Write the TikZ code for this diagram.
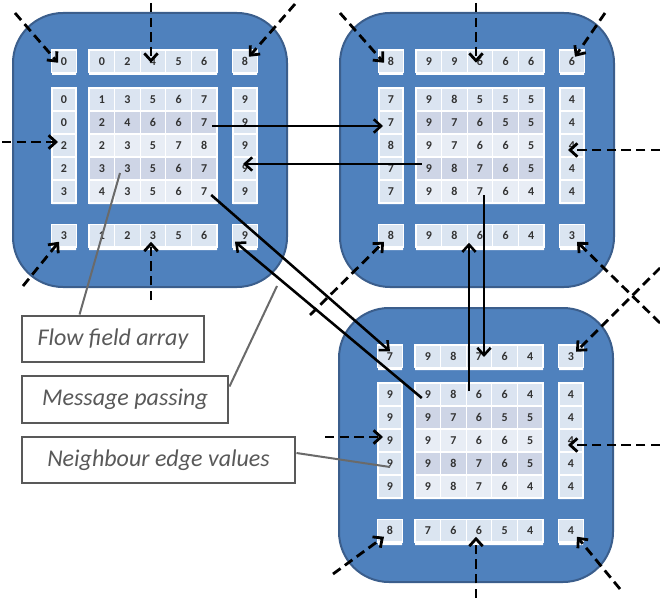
\documentclass[tikz,border=0pt]{standalone}
\usepackage{fontspec}
\setmainfont{Carlito}
\usetikzlibrary{arrows.meta,calc}

\definecolor{blockblue}{HTML}{4F81BD}
\definecolor{blockedge}{HTML}{3B5E8C}
\definecolor{edgecell}{HTML}{DBE5F1}
\definecolor{gridrow1}{HTML}{DBE4F1}
\definecolor{gridrow2}{HTML}{CED5E6}
\definecolor{gridrow3}{HTML}{E8EDF5}
\definecolor{gridrow4}{HTML}{CED5E6}
\definecolor{gridrow5}{HTML}{E8EDF5}
\definecolor{labelgray}{HTML}{595959}

\tikzset{
  blockbody/.style={fill=blockblue, draw=blockedge, line width=1.5pt, rounded corners=37.5pt},
  cell/.style={fill=edgecell, draw=white, line width=0.8pt, inner sep=0pt,
    minimum width=19.2pt, minimum height=16.9pt, font=\fontsize{9}{10}\selectfont\bfseries, text=black!80},
  sidecell/.style={cell, minimum width=18pt, minimum height=17.25pt},
  gridcell/.style={cell, minimum height=17.25pt},
  msg/.style={line width=1.9pt, -{Straight Barb[length=5.5pt,width=10pt]}},
  edgein/.style={msg, line width=2.1pt, dash pattern=on 7pt off 4pt},
  lbl/.style={draw=labelgray, line width=2.2pt, fill=white, text=labelgray,
    font=\fontsize{18}{20}\selectfont\itshape, inner sep=0pt},
  leader/.style={draw=labelgray!90, line width=1.5pt},
}

% one processor block: name, origin, top strip, bottom strip, left, right, grid rows
\newcommand{\flowblock}[7]{%
  \begin{scope}[shift={#2}]
    \draw[blockbody] (0,0) rectangle (274,274);
    \fill[white] (39,37) rectangle (63,62) (76,37) rectangle (204,62) (220,37) rectangle (244,62)
      (39,211) rectangle (63,237) (76,211) rectangle (204,237) (220,211) rectangle (244,237)
      (39,75) rectangle (63,191) (76,75) rectangle (204,191) (220,75) rectangle (244,191);
    \foreach \v [count=\i] in {#3}{
      \ifnum\i=1 \def\cx{51}\else\ifnum\i=7 \def\cx{232}\else\pgfmathsetmacro\cx{63.2+25.6*(\i-1)}\fi\fi
      \node[cell] (#1-t-\i) at (\cx,48.25) {\v};
    }
    \foreach \v [count=\i] in {#4}{
      \ifnum\i=1 \def\cx{51}\else\ifnum\i=7 \def\cx{232}\else\pgfmathsetmacro\cx{63.2+25.6*(\i-1)}\fi\fi
      \node[cell] (#1-b-\i) at (\cx,222.75) {\v};
    }
    \foreach \v [count=\r] in {#5}
      \node[sidecell] (#1-l-\r) at (51,{63.5+23*\r}) {\v};
    \foreach \v [count=\r] in {#6}
      \node[sidecell] (#1-r-\r) at (232,{63.5+23*\r}) {\v};
    \foreach \row [count=\r] in {#7}{
      \foreach \v [count=\c] in \row{
        \node[gridcell, fill=gridrow\r] (#1-g-\r-\c) at ({63.2+25.6*\c},{63.5+23*\r}) {\v};
      }
    }
  \end{scope}}

\begin{document}
\begin{tikzpicture}[x=0.75pt,y=-0.75pt]
  \useasboundingbox (0,0) rectangle (660,599);

  \flowblock{nw}{(13,13)}{0,0,2,4,5,6,8}{3,1,2,3,5,6,9}{0,0,2,2,3}{9,9,9,9,9}%
    {{1,3,5,6,7},{2,4,6,6,7},{2,3,5,7,8},{3,3,5,6,7},{4,3,5,6,7}}
  \flowblock{ne}{(340,13)}{8,9,9,6,6,6,6}{8,9,8,6,6,4,3}{7,7,8,7,7}{4,4,4,4,4}%
    {{9,8,5,5,5},{9,7,6,5,5},{9,7,6,6,5},{9,8,7,6,5},{9,8,7,6,4}}
  \flowblock{s}{(339,308)}{7,9,8,7,6,4,3}{8,7,6,6,5,4,4}{9,9,9,9,9}{4,4,4,4,4}%
    {{9,8,6,6,4},{9,7,6,5,5},{9,7,6,6,5},{9,8,7,6,5},{9,8,7,6,4}}

  % labels
  \node[lbl, minimum width=136.5pt, minimum height=34.5pt] (flowlbl) at (113,339) {Flow field array};
  \node[lbl, minimum width=154.5pt, minimum height=35.25pt] (msglbl) at (125,399.5) {Message passing};
  \node[lbl, minimum width=204.75pt, minimum height=34.5pt] (nbrlbl) at (158.5,460) {Neighbour edge values};

  \coordinate (mpend) at (277,286);
  \draw[leader] ($(flowlbl.north west)+(59,0)$) -- ($(nw-g-4-2)+(-7.4,4.5)$);
  \draw[leader] ($(msglbl.north east)+(0,12)$) -- (mpend);
  \draw[leader] ($(nbrlbl.east)+(0,-7)$) -- ($(s-l-4)+(0,3.5)$);

  % message passing between blocks
  \draw[msg] ($(nw-g-2-5)+(8,3.5)$) -- ($(ne-l-2)+(-8,3.5)$);
  \draw[msg] ($(ne-g-4-1)+(-7,-4.5)$) -- ($(nw-r-4)+(-2,-4.5)$);
  \draw[msg] ($(nw-g-5-5)+(7,3.5)$) -- ($(s-t-1)+(0,-5)$);
  \draw[msg] ($(s-g-1-1)+(-6,3.5)$) -- ($(nw-b-7)+(-10,6)$);
  \draw[msg] ($(ne-g-5-3)+(4,3.5)$) -- ($(s-t-4)+(5,0.75)$);
  \draw[msg] ($(s-g-1-3)+(-10,-3.5)$) -- ($(ne-b-4)+(-11,7)$);

  % values coming in from outside neighbours
  \coordinate (nwA) at (15,13);   \coordinate (nwB) at (151,3);   \coordinate (nwC) at (295,4);
  \coordinate (nwD) at (2,142);   \coordinate (nwE) at (23,286);  \coordinate (nwF) at (151,300);
  \coordinate (neA) at (340,13);  \coordinate (neB) at (476,3);   \coordinate (neC) at (605,13);
  \coordinate (neD) at (660,150); \coordinate (neE) at (310,315); \coordinate (neF) at (660,323);
  \coordinate (sA) at (660,268);  \coordinate (sB) at (325,437);  \coordinate (sC) at (660,445);
  \coordinate (sD) at (333,574);  \coordinate (sE) at (476,598);  \coordinate (sF) at (620,589);
  \foreach \src/\dst/\dx/\dy in {nwA/nw-t-1/-6/1.5, nwB/nw-t-4/-2/1.5, nwC/nw-t-7/4/-4.5,
      nwD/nw-l-3/-6/-3.5, nwE/nw-b-1/-5/6, nwF/nw-b-4/-2/6,
      neA/ne-t-1/-7/1.5, neB/ne-t-4/-4/1.5, neC/ne-t-7/3/-4.5,
      neD/ne-r-3/-4/4.5, neE/ne-b-1/-7/6, neF/ne-b-7/5/6,
      sA/s-t-7/5/-4.5, sB/s-l-3/-7/-3.5, sC/s-r-3/-3/4.5,
      sD/s-b-1/-6/6, sE/s-b-4/-3/6, sF/s-b-7/6/6}
    \draw[edgein] (\src) -- ($(\dst)+(\dx,\dy)$);
\end{tikzpicture}
\end{document}
